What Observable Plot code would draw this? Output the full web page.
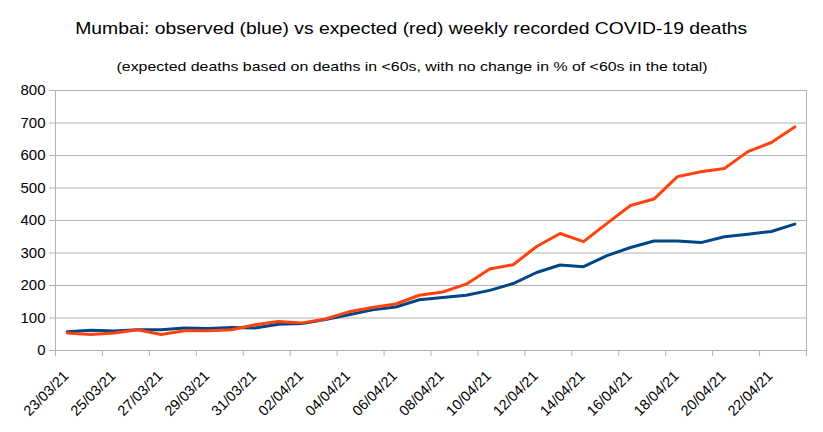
<!DOCTYPE html>
<html>
<head>
<meta charset="utf-8">
<script src="https://cdn.jsdelivr.net/npm/d3@7"></script>
<script src="https://cdn.jsdelivr.net/npm/@observablehq/plot@0.6"></script>
<style>
  html, body { margin: 0; padding: 0; background: #fff; }
  body { font-family: "Liberation Sans", Arial, sans-serif; width: 823px; }
  #head { position: relative; height: 80px; width: 823px; }
  .hl { position: absolute; left: 0; width: 823px; text-align: center; color: #000; white-space: nowrap; }
  .hl span { display: inline-block; transform-origin: 50% 50%; }
  #title { top: 18px; font-size: 17px; line-height: 22px; }
  #subtitle { top: 57.5px; font-size: 13.5px; line-height: 18px; }
</style>
</head>
<body>
<div id="head">
  <div id="title" class="hl"><span>Mumbai: observed (blue) vs expected (red) weekly recorded COVID-19 deaths</span></div>
  <div id="subtitle" class="hl"><span>(expected deaths based on deaths in &lt;60s, with no change in % of &lt;60s in the total)</span></div>
</div>
<div id="chart"></div>
<script>
const dates = ["23/03/21","24/03/21","25/03/21","26/03/21","27/03/21","28/03/21","29/03/21","30/03/21","31/03/21",
  "01/04/21","02/04/21","03/04/21","04/04/21","05/04/21","06/04/21","07/04/21","08/04/21","09/04/21","10/04/21",
  "11/04/21","12/04/21","13/04/21","14/04/21","15/04/21","16/04/21","17/04/21","18/04/21","19/04/21","20/04/21",
  "21/04/21","22/04/21","23/04/21"];
const observed = [58,62,60,64,64,69,68,71,69,81,83,95,110,125,134,156,163,170,185,206,240,263,258,292,317,337,337,332,350,358,366,389];
const expected = [54,49,54,64,49,61,61,64,79,89,85,97,119,132,143,170,180,204,251,264,320,360,335,391,446,466,535,550,560,612,640,688];
const yTicks = [0,100,200,300,400,500,600,700,800];

// horizontal stretch of heading lines to match the reference widths
function fit(id, target, center) {
  const s = document.querySelector("#" + id + " span");
  const w = s.getBoundingClientRect().width;
  s.style.transform = `translateX(${center - 411.5}px) scaleX(${target / w})`;
}
fit("title", 672, 411);
fit("subtitle", 591, 412.5);

const data = dates.map((d, i) => ({i, date: d, observed: observed[i], expected: expected[i]}));
const labelRows = data.filter(d => d.i % 2 === 0);
const boundaries = d3.range(0, dates.length + 1, 2).map(k => k - 0.5);
const grid = "#b3b3b3";

const chart = Plot.plot({
  width: 823,
  height: 352,
  marginLeft: 55,
  marginRight: 17,
  marginTop: 10,
  marginBottom: 82,
  style: {fontFamily: "Liberation Sans, Arial, sans-serif", background: "#fff"},
  x: {domain: [-0.5, dates.length - 0.5], axis: null},
  y: {domain: [0, 800], axis: null},
  marks: [
    Plot.gridY(yTicks, {stroke: grid, strokeOpacity: 1, strokeWidth: 1}),
    Plot.ruleX([-0.5, dates.length - 0.5], {stroke: grid, strokeWidth: 1}),
    Plot.ruleY([0], {stroke: grid, strokeWidth: 1}),
    Plot.axisY({ticks: yTicks, tickSize: 6, tickPadding: 4, stroke: grid, fill: "#000", fontSize: 15, label: null, tickFormat: d => String(d)}),
    Plot.axisX({ticks: boundaries, tickSize: 6, stroke: grid, tickFormat: () => "", label: null}),
    Plot.text(labelRows, {x: "i", y: 0, text: "date", rotate: -45, textAnchor: "end", dx: -1, dy: 23, fontSize: 14.5, fill: "#000"}),
    Plot.line(data, {x: "i", y: "observed", stroke: "#004586", strokeWidth: 3}),
    Plot.line(data, {x: "i", y: "expected", stroke: "#ff420e", strokeWidth: 3})
  ]
});
document.getElementById("chart").appendChild(chart);
</script>
</body>
</html>
